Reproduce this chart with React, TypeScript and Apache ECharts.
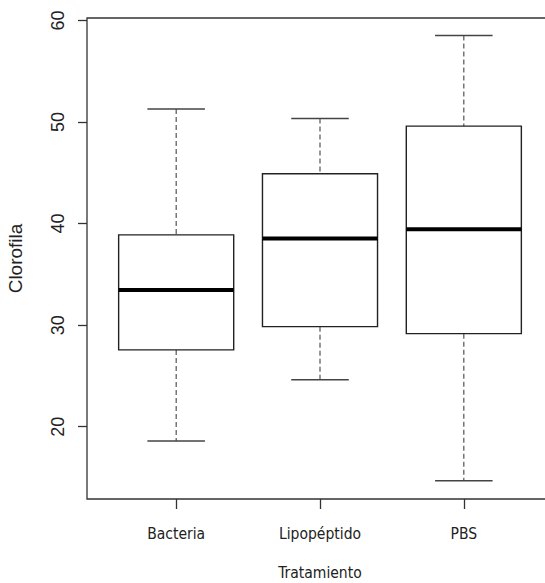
import React, { useEffect, useRef } from "react";
import * as echarts from "echarts";

const categories = ["Bacteria", "Lipopéptido", "PBS"];
const whiskerLow = [18.59, 24.63, 14.68];
const q1 = [27.56, 29.85, 29.16];
const median = [33.47, 38.52, 39.45];
const q3 = [38.89, 44.9, 49.59];
const whiskerHigh = [51.27, 50.34, 58.52];
const yTicks = [20, 30, 40, 50, 60];
const xTicks = [1, 2, 3];

const narrow = '"Liberation Sans Narrow", "DejaVu Sans Condensed", "Arial Narrow", sans-serif';
const regular = '"Liberation Sans", Arial, sans-serif';

export default function App() {
  const ref = useRef<HTMLDivElement>(null);
  useEffect(() => {
    if (!ref.current) return;
    const chart = echarts.init(ref.current, null, { renderer: "svg" });
    const data = categories.map((c, i) => [i + 1, whiskerLow[i], q1[i], median[i], q3[i], whiskerHigh[i]]);
    chart.setOption({
      animation: false,
      backgroundColor: "#ffffff",
      grid: {
        left: 87,
        top: 18,
        width: 466,
        height: 481,
        outerBoundsMode: "none",
        containLabel: false,
        show: true,
        borderColor: "#333",
        borderWidth: 1.3,
        backgroundColor: "transparent",
      },
      xAxis: {
        type: "value",
        min: 0.38,
        max: 3.62,
        name: "Tratamiento",
        nameLocation: "middle",
        nameGap: 66,
        nameTextStyle: { fontFamily: narrow, fontSize: 15.5, color: "#222" },
        axisLine: { show: false },
        splitLine: { show: false },
        axisTick: { show: true, customValues: xTicks, length: 10, lineStyle: { color: "#333", width: 1.3 } },
        axisLabel: {
          customValues: xTicks,
          formatter: (v: number) => categories[Math.round(v) - 1] ?? "",
          fontFamily: narrow,
          fontSize: 15.5,
          color: "#222",
          margin: 27,
        },
      },
      yAxis: {
        type: "value",
        min: 12.88,
        max: 60.24,
        name: "Clorofila",
        nameLocation: "middle",
        nameGap: 62,
        nameRotate: 90,
        nameTextStyle: { fontFamily: regular, fontSize: 19, color: "#222" },
        axisLine: { show: false },
        splitLine: { show: false },
        axisTick: { show: true, customValues: yTicks, length: 9, lineStyle: { color: "#333", width: 1.3 } },
        axisLabel: {
          customValues: yTicks,
          rotate: 90,
          fontFamily: regular,
          fontSize: 18,
          color: "#222",
          margin: 20,
        },
      },
      series: [
        {
          type: "custom",
          data,
          clip: false,
          renderItem: (params: any, api: any) => {
            const x = api.value(0);
            const lo = api.coord([x, api.value(1)]);
            const b1 = api.coord([x, api.value(2)]);
            const md = api.coord([x, api.value(3)]);
            const b3 = api.coord([x, api.value(4)]);
            const hi = api.coord([x, api.value(5)]);
            const w = api.size([0.8, 0])[0];
            const cx = lo[0];
            const half = w / 2;
            const capHalf = w / 4;
            const dash = { stroke: "#444", lineWidth: 1.1, lineDash: [5, 3] };
            const cap = { stroke: "#444", lineWidth: 1.5 };
            return {
              type: "group",
              children: [
                { type: "line", shape: { x1: cx, y1: hi[1], x2: cx, y2: b3[1] }, style: dash },
                { type: "line", shape: { x1: cx, y1: b1[1], x2: cx, y2: lo[1] }, style: dash },
                { type: "line", shape: { x1: cx - capHalf, y1: hi[1], x2: cx + capHalf, y2: hi[1] }, style: cap },
                { type: "line", shape: { x1: cx - capHalf, y1: lo[1], x2: cx + capHalf, y2: lo[1] }, style: cap },
                {
                  type: "rect",
                  shape: { x: cx - half, y: b3[1], width: w, height: b1[1] - b3[1] },
                  style: { fill: "#fff", stroke: "#222", lineWidth: 1.4 },
                },
                {
                  type: "line",
                  shape: { x1: cx - half, y1: md[1], x2: cx + half, y2: md[1] },
                  style: { stroke: "#000", lineWidth: 4 },
                },
              ],
            };
          },
        },
      ],
    });
    return () => chart.dispose();
  }, []);
  return (
    <div
      ref={ref}
      style={{ position: "fixed", left: 0, top: 0, width: 545, height: 583, overflow: "hidden", background: "#fff" }}
    />
  );
}
